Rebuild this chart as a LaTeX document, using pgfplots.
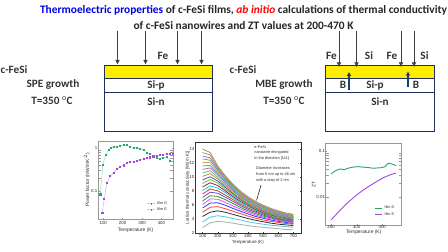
\documentclass[border=0pt]{standalone}
\usepackage{pgfplots}
\pgfplotsset{compat=1.18}
\usetikzlibrary{arrows.meta}
\usepackage{fontspec}
\setmainfont{Carlito}
\newfontfamily\arialf{Liberation Sans}
\definecolor{navy}{HTML}{1F2F5F}
\definecolor{upb}{HTML}{1F3A70}
\definecolor{frame}{HTML}{989898}
\definecolor{dg}{HTML}{22A868}
\definecolor{dgl}{HTML}{9FE6C0}
\definecolor{ep}{HTML}{A048E0}
\definecolor{epl}{HTML}{DCC0F4}
\definecolor{txt}{HTML}{303030}
\definecolor{k1}{HTML}{9CB89C}\definecolor{k2}{HTML}{55C5E5}\definecolor{k3}{HTML}{303030}\definecolor{k4}{HTML}{FF4040}
\definecolor{k5}{HTML}{2040FF}\definecolor{k6}{HTML}{FF40FF}\definecolor{k7}{HTML}{20A030}\definecolor{k8}{HTML}{8040D0}
\definecolor{k9}{HTML}{B05030}\definecolor{k10}{HTML}{30C0C0}\definecolor{k11}{HTML}{902060}\definecolor{k12}{HTML}{70C030}
\definecolor{k13}{HTML}{4060C0}\definecolor{k14}{HTML}{E08030}\definecolor{k15}{HTML}{40D080}\definecolor{k16}{HTML}{D060B0}
\definecolor{k17}{HTML}{5090E0}\definecolor{k18}{HTML}{C0B030}\definecolor{k19}{HTML}{60A0A0}\definecolor{k20}{HTML}{A070D0}
\definecolor{k21}{HTML}{A0A040}\definecolor{k22}{HTML}{B08870}
\pgfplotstableread{
T c1 c2 c3 c4 c5 c6 c7 c8 c9 c10 c11 c12 c13 c14 c15 c16 c17 c18 c19 c20 c21 c22
100 2.8 3.6 4.4 5.0 5.6 6.1 6.6 7.1 7.6 8.1 8.6 9.1 9.6 10.1 10.6 11.1 11.6 12.1 12.6 13.0 13.5 14
150 3.5 4.3 5.0 5.7 6.3 6.9 7.35 7.85 8.3 8.75 9.2 9.65 10.05 10.5 10.9 11.3 11.65 12.05 12.4 12.75 13.15 13.5
200 3.7 4.5 5.2 5.8 6.35 6.85 7.25 7.7 8.05 8.45 8.8 9.15 9.45 9.75 10.0 10.3 10.55 10.8 11.0 11.2 11.4 11.6
250 3.6 4.35 5.0 5.5 6.0 6.4 6.8 7.15 7.45 7.8 8.05 8.3 8.55 8.75 8.95 9.2 9.35 9.55 9.7 9.85 10.05 10.2
300 3.45 4.1 4.7 5.15 5.55 5.9 6.25 6.55 6.8 7.05 7.25 7.45 7.65 7.8 8.0 8.15 8.3 8.45 8.6 8.75 8.85 9.0
350 3.25 3.9 4.4 4.8 5.15 5.45 5.7 5.95 6.15 6.35 6.55 6.7 6.85 7.0 7.15 7.25 7.4 7.5 7.65 7.75 7.85 8.0
400 3.1 3.65 4.1 4.45 4.75 5.0 5.2 5.4 5.6 5.8 5.95 6.1 6.2 6.3 6.45 6.55 6.65 6.75 6.85 6.95 7.05 7.2
450 2.95 3.45 3.85 4.15 4.4 4.6 4.8 5.0 5.15 5.3 5.4 5.55 5.65 5.75 5.85 5.95 6.05 6.1 6.2 6.3 6.4 6.55
500 2.85 3.3 3.65 3.9 4.15 4.3 4.45 4.6 4.75 4.85 4.95 5.05 5.15 5.25 5.35 5.4 5.5 5.6 5.7 5.8 5.9 6.0
550 2.75 3.15 3.45 3.7 3.9 4.05 4.2 4.3 4.4 4.5 4.6 4.7 4.8 4.85 4.95 5.0 5.1 5.15 5.25 5.35 5.45 5.55
600 2.65 3.05 3.3 3.55 3.7 3.85 3.95 4.05 4.15 4.25 4.35 4.4 4.5 4.55 4.6 4.7 4.75 4.85 4.9 5.0 5.1 5.2
650 2.55 2.95 3.2 3.4 3.55 3.65 3.75 3.85 3.95 4.0 4.1 4.15 4.2 4.3 4.35 4.4 4.45 4.55 4.6 4.7 4.8 4.9
700 2.5 2.85 3.1 3.3 3.4 3.5 3.6 3.7 3.75 3.85 3.9 3.95 4.0 4.05 4.15 4.2 4.25 4.35 4.4 4.5 4.6 4.7
}\kappatable
\pgfplotsset{small/.style={
  scale only axis, tick align=inside, major tick length=1.2pt,
  tick style={frame,line width=0.3pt}, axis line style={frame,line width=0.8pt},
  tick label style={font=\arialf\fontsize{4.4}{4.4}\selectfont,text=txt,inner sep=0.5pt},
  label style={font=\arialf\fontsize{4.9}{4.9}\selectfont,text=txt,inner sep=0.3pt},
  /pgf/number format/assume math mode=true,
  legend style={draw=none,fill=none,font=\arialf\fontsize{3.8}{3.8}\selectfont,text=txt,inner sep=0pt,row sep=-2pt},
  legend cell align=left, legend image post style={xscale=0.45},
}}
\begin{document}
\begin{tikzpicture}[x=1pt,y=1pt]
\path[use as bounding box,fill=white] (0,0) rectangle (448,252);
\begin{scope}[yshift=252pt,y=-1pt,x=1pt]
% boxes
\fill[yellow!95!orange] (104,65) rectangle (212.5,78.5);
\draw[navy,line width=0.9pt] (104,65) rectangle (212.5,78.5);
\draw[navy,line width=0.9pt] (104,78.5) rectangle (212.5,92);
\draw[navy,line width=0.9pt] (104,92) rectangle (212.5,131.5);
\fill[yellow!95!orange] (325,65) rectangle (434,78.5);
\draw[navy,line width=0.9pt] (325,65) rectangle (434,78.5);
\draw[navy,line width=0.9pt] (325,78.5) rectangle (434,92);
\draw[navy,line width=0.9pt] (325,92) rectangle (434,131.5);
% arrows down
\foreach \x in {117.5,145.5,177.5,201.5}
  \draw[-{Latex[length=4.5pt,width=4.5pt]},black!75,line width=0.5pt] (\x,31)--(\x,64.5);
\foreach \x in {339,356.5,401,414}
  \draw[-{Latex[length=4.5pt,width=4.5pt]},black!75,line width=0.5pt] (\x,31)--(\x,67);
% arrows up
\draw[-{Latex[length=4pt,width=5pt]},upb,line width=2pt] (349,90)--(349,72);
\draw[-{Latex[length=4pt,width=5pt]},upb,line width=2pt] (408,87.5)--(408,71.5);
% texts
\node[font=\bfseries\fontsize{11.4}{11.4}\selectfont,anchor=base,color=black!85,inner sep=0pt] at (243.5,14) {\textcolor{blue!90!black}{Thermoelectric properties} of c-FeSi films, \textcolor{red}{\itshape ab initio} calculations of thermal conductivity};
\node[font=\bfseries\fontsize{11.4}{11.4}\selectfont,anchor=base,color=black!85,inner sep=0pt] at (243.5,30) {of c-FeSi nanowires and ZT values at 200-470 K};
\foreach \x/\y/\t in {163/55.5/Fe,14/70/c-FeSi,53/85/SPE growth,52/101/T=350 $^{\mathrm{o}}$C,156/85.3/Si-p,156/101.5/Si-n,243/70/c-FeSi,284/85/MBE growth,284/101/T=350 $^{\mathrm{o}}$C,331.5/55.5/Fe,369/55.5/Si,392/55.5/Fe,424.5/55.5/Si,343/85.3/B,375/85.3/Si-p,416/85.3/B,380/101.5/Si-n}
  \node[font=\bfseries\fontsize{11.2}{11.2}\selectfont,color=black!80,inner sep=0pt] at (\x,\y) {\t};
\end{scope}

% Chart 1
\begin{axis}[small,at={(98pt,33pt)},anchor=south west,width=75.3pt,height=78pt,
  xmin=73,xmax=461,ymode=log,ymin=0.0222,ymax=1.48,
  xtick={100,200,300,400},ytick={0.1,1},yticklabels={0.1,1},minor tick num=0,
  xticklabel style={yshift=-2pt},
  xlabel={Temperature (K)},ylabel={Power factor (mW/mK$^2$)},
  xlabel style={yshift=-2pt},
  legend style={at={(0.65,0.16)},anchor=west}]
\addplot[dgl,line width=0.6pt,mark=square*,mark size=0.55pt,mark options={dg,fill=dg}] coordinates {
(85,0.084)(98,0.42)(114,0.71)(127,0.92)(139,1.02)(156,1.07)(170,1.09)(187,1.15)(204,1.19)(221,1.19)(238,1.09)(256,1.04)(273,1.02)(290,0.98)(307,0.92)(324,0.80)(341,0.73)(358,0.67)(375,0.60)(392,0.565)(409,0.60)(426,0.62)(444,0.52)};
\addplot[epl,line width=0.6pt,mark=square*,mark size=0.55pt,mark options={ep,fill=ep}] coordinates {
(95,0.031)(105,0.065)(119,0.154)(136,0.225)(153,0.27)(170,0.324)(187,0.366)(204,0.40)(221,0.45)(238,0.475)(256,0.49)(273,0.518)(290,0.535)(307,0.555)(324,0.585)(341,0.615)(358,0.65)(375,0.67)(392,0.695)(409,0.72)(426,0.745)(444,0.745)(457,0.76)};
\legend{film D,film E}
\end{axis}

% Chart 2
\begin{axis}[small,at={(195pt,18.7pt)},anchor=south west,width=106pt,height=91.3pt,
  axis line style={black!80,line width=0.8pt},tick style={black!80,line width=0.3pt},
  xmin=50,xmax=750,ymin=2,ymax=15,xtick={100,200,...,700},ytick={2,4,...,14},
  xticklabel style={yshift=-0.5pt},
  xlabel={Temperature (K)},ylabel={Lattice thermal conductivity [W/(m K)]},
  xlabel style={font=\arialf\fontsize{4.4}{4.4}\selectfont,yshift=-2pt},
  ylabel style={font=\arialf\fontsize{4.4}{4.4}\selectfont,yshift=-1.5pt},no markers]
\addplot[k1,line width=0.8pt] table[x=T,y=c1] {\kappatable};
\addplot[k2,line width=0.8pt] table[x=T,y=c2] {\kappatable};
\addplot[k3,line width=0.8pt] table[x=T,y=c3] {\kappatable};
\addplot[k4,line width=0.8pt] table[x=T,y=c4] {\kappatable};
\addplot[k5,line width=0.8pt] table[x=T,y=c5] {\kappatable};
\addplot[k6,line width=0.8pt] table[x=T,y=c6] {\kappatable};
\addplot[k7,line width=0.8pt] table[x=T,y=c7] {\kappatable};
\addplot[k8,line width=0.8pt] table[x=T,y=c8] {\kappatable};
\addplot[k9,line width=0.8pt] table[x=T,y=c9] {\kappatable};
\addplot[k10,line width=0.8pt] table[x=T,y=c10] {\kappatable};
\addplot[k11,line width=0.8pt] table[x=T,y=c11] {\kappatable};
\addplot[k12,line width=0.8pt] table[x=T,y=c12] {\kappatable};
\addplot[k13,line width=0.8pt] table[x=T,y=c13] {\kappatable};
\addplot[k14,line width=0.8pt] table[x=T,y=c14] {\kappatable};
\addplot[k15,line width=0.8pt] table[x=T,y=c15] {\kappatable};
\addplot[k16,line width=0.8pt] table[x=T,y=c16] {\kappatable};
\addplot[k17,line width=0.8pt] table[x=T,y=c17] {\kappatable};
\addplot[k18,line width=0.8pt] table[x=T,y=c18] {\kappatable};
\addplot[k19,line width=0.8pt] table[x=T,y=c19] {\kappatable};
\addplot[k20,line width=0.8pt] table[x=T,y=c20] {\kappatable};
\addplot[k21,line width=0.8pt] table[x=T,y=c21] {\kappatable};
\addplot[k22,line width=0.8pt] table[x=T,y=c22] {\kappatable};
\node[font=\arialf\fontsize{3.9}{5.8}\selectfont,text=txt,align=left,anchor=north west,inner sep=0pt] at (axis cs:441,14.55) {e-FeSi\\nanowire elongated\\in the direction [111]};
\node[font=\arialf\fontsize{3.9}{6.3}\selectfont,text=txt,align=left,anchor=north west,inner sep=0pt] at (axis cs:453,11.55) {Diameter increases\\from 6 nm up to 46 nm\\with a step of 2 nm};
\draw[black,line width=0.5pt] (axis cs:486,8.86)--(axis cs:457,6.7);
\end{axis}

% Chart 3
\begin{axis}[small,at={(325.7pt,27pt)},anchor=south west,width=76pt,height=81.7pt,
  xmin=179,xmax=476,ymode=log,ymin=0.0024,ymax=0.147,
  xtick={200,300,400},ytick={0.01,0.1},yticklabels={0.01,0.1},minor tick num=0,
  xlabel={Temperature (K)},ylabel={ZT},
  legend style={at={(0.635,0.168)},anchor=west}]
\addplot[dg,line width=0.9pt] coordinates {
(200,0.0314)(208,0.034)(216,0.0366)(225,0.0385)(235,0.0403)(243,0.0395)(251,0.039)(262,0.041)(274,0.0431)(290,0.0445)(307,0.0454)(320,0.0445)(333,0.0439)(350,0.043)(365,0.0418)(382,0.0425)(398,0.0431)(411,0.0454)(420,0.052)(428,0.0536)(441,0.051)(454,0.0478)};
\addplot[ep,line width=0.9pt] coordinates {
(200,0.0031)(222,0.0042)(248,0.0060)(274,0.0082)(300,0.0109)(326,0.014)(352,0.0174)(378,0.0214)(404,0.026)(430,0.0299)(454,0.033)};
\legend{film D,film E}
\end{axis}
\end{tikzpicture}
\end{document}
